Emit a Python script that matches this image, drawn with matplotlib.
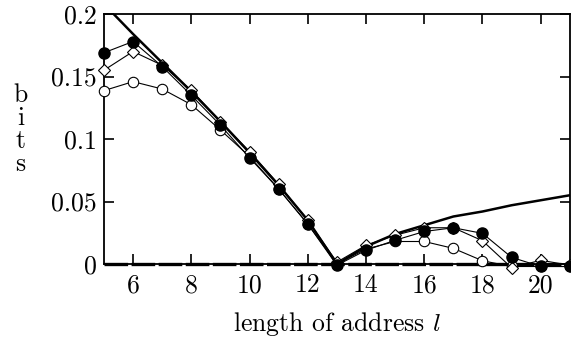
import matplotlib
matplotlib.use("Agg")
import matplotlib.pyplot as plt

plt.rcParams['font.family'] = 'cmr10'
plt.rcParams['mathtext.fontset'] = 'cm'
plt.rcParams['axes.formatter.use_mathtext'] = True
plt.rcParams['lines.scale_dashes'] = False

l = [5, 6, 7, 8, 9, 10, 11, 12, 13, 14, 15, 16, 17, 18, 19, 20, 21]
envelope = [0.208, 0.184, 0.161, 0.138, 0.114, 0.089, 0.063, 0.035, 0.0,
            0.014, 0.024, 0.031, 0.038, 0.042, 0.047, 0.051, 0.055]
filled = [0.169, 0.178, 0.158, 0.135, 0.111, 0.085, 0.060, 0.032, -0.001,
          0.011, 0.019, 0.026, 0.029, 0.0245, 0.0053, -0.002, -0.002]
diamond = [0.155, 0.170, 0.159, 0.139, 0.114, 0.090, 0.0638, 0.0350, 0.0015,
           0.0150, 0.023, 0.029, 0.029, 0.0186, -0.003, 0.003, -0.001]
opencirc = [0.1387, 0.1459, 0.140, 0.1275, 0.1073, 0.086, 0.060, 0.032, 0.0,
            0.012, 0.018, 0.018, 0.0125, 0.0026, -0.002, -0.002, -0.002]
zero_x = [5, 21]
zero_y = [0, 0]

xticks = [6, 8, 10, 12, 14, 16, 18, 20]
yticks = [0, 0.05, 0.1, 0.15, 0.2]
yticklabels = ['0', '0.05', '0.1', '0.15', '0.2']

fig = plt.figure(figsize=(5.71, 3.46), dpi=100)
ax = fig.add_axes([0.182, 0.237, 0.816, 0.7225])

ax.plot(zero_x, zero_y, color='black', lw=2.4, dashes=(17, 2.5), zorder=3)
ax.plot(l, envelope, color='black', lw=1.8, zorder=3)
ax.plot(l, opencirc, color='black', lw=0.8, marker='o', ms=7.5,
        mfc='white', mec='black', mew=0.8, zorder=4)
ax.plot(l, diamond, color='black', lw=0.8, marker='D', ms=6.5,
        mfc='white', mec='black', mew=0.8, zorder=5)
ax.plot(l, filled, color='black', lw=0.8, marker='o', ms=8,
        mfc='black', mec='black', zorder=6)

ax.set_xlim(5, 21)
ax.set_ylim(0, 0.2)
ax.set_xticks(xticks)
ax.set_xticklabels([str(t) for t in xticks])
ax.set_yticks(yticks)
ax.set_yticklabels(yticklabels)
ax.tick_params(direction='in', length=7, width=1.2, labelsize=18.5,
               top=True, right=True, pad=7)
ax.tick_params(axis='y', pad=5)
for s in ax.spines.values():
    s.set_linewidth(1.3)
for line in ax.get_lines():
    line.set_clip_on(False)
ax.get_lines()[1].set_clip_on(True)

ax.set_xlabel(r'length of address $l$', fontsize=18.5, labelpad=9)
fig.text(0.036, 0.625, 'b\ni\nt\ns', fontsize=18.5, ha='center', va='center',
         linespacing=0.95)

fig.savefig('out.png', dpi=100)
